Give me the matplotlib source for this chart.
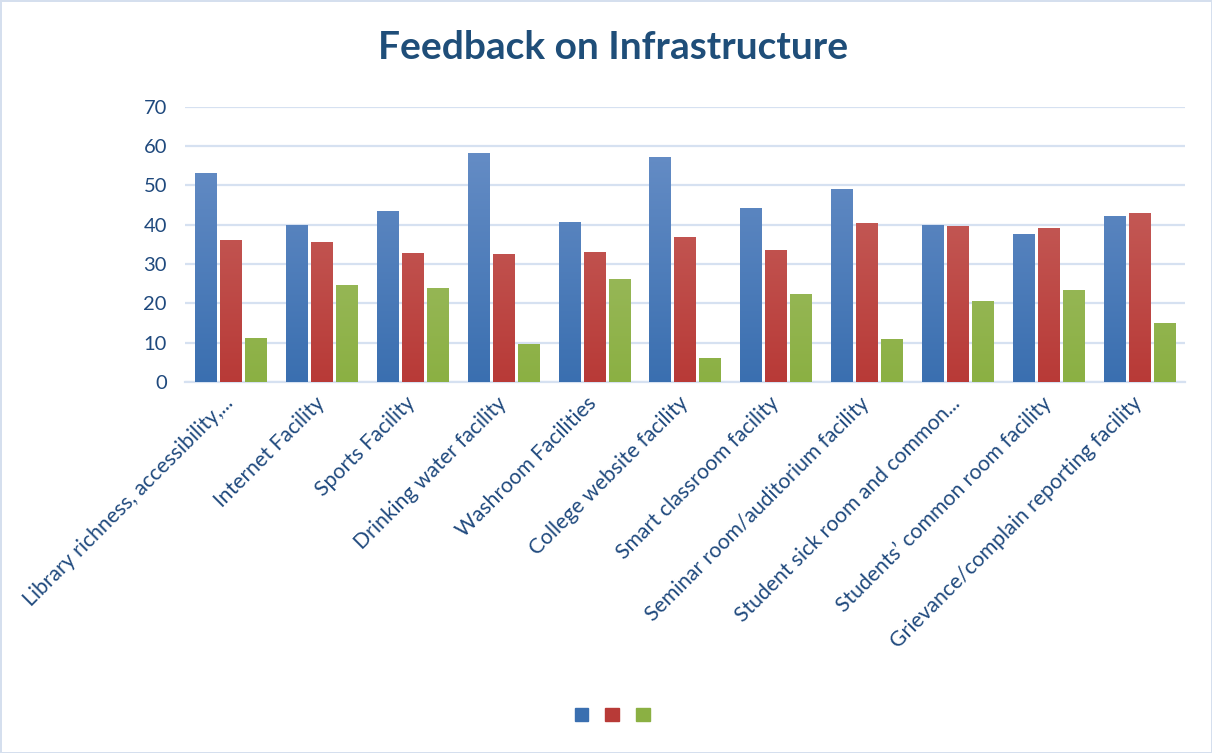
import numpy as np
import matplotlib.pyplot as plt
from matplotlib.patches import Patch
from matplotlib.colors import LinearSegmentedColormap

plt.rcParams['font.family'] = ['Lato', 'DejaVu Sans']

categories = ['Library richness, accessibility,...', 'Internet Facility', 'Sports Facility',
              'Drinking water facility', 'Washroom Facilities', 'College website facility',
              'Smart classroom facility', 'Seminar room/auditorium facility',
              'Student sick room and common...', 'Students\u2019 common room facility',
              'Grievance/complain reporting facility']
series_blue = [53.1, 39.9, 43.4, 58.2, 40.6, 57.2, 44.2, 49.0, 39.9, 37.6, 42.2]
series_red = [36.0, 35.5, 32.7, 32.5, 33.0, 36.8, 33.5, 40.4, 39.6, 39.1, 42.9]
series_green = [11.1, 24.6, 23.8, 9.6, 26.1, 6.0, 22.3, 10.9, 20.5, 23.3, 14.9]
yticks = [0, 10, 20, 30, 40, 50, 60, 70]

# (top colour, bottom colour) for each series
grads = [('#6d92c9', '#3a6fb0'), ('#ca6b67', '#b83a37'), ('#a9c276', '#8bb043')]
txt = '#1f497d'

fig = plt.figure(figsize=(12.12, 7.53), dpi=100)
fig.patch.set_edgecolor('#d5dfee')
fig.patch.set_linewidth(2)
ax = fig.add_axes([0.1526, 0.4927, 0.8251, 0.3656])

x = np.arange(len(categories))
w = 0.231
step = 0.275
grad = np.linspace(1, 0, 256).reshape(-1, 1)
for i, (vals, (top, bot)) in enumerate(zip([series_blue, series_red, series_green], grads)):
    cmap = LinearSegmentedColormap.from_list('g%d' % i, [bot, top])
    bars = ax.bar(x + (i - 1) * step, vals, w, color=bot, zorder=2)
    for b in bars:
        x0 = b.get_x()
        im = ax.imshow(grad, cmap=cmap, aspect='auto', vmin=0, vmax=1,
                       extent=[x0, x0 + b.get_width(), 0, 70], zorder=3)
        im.set_clip_path(b)

ax.set_xlim(-0.5, len(categories) - 0.5)
ax.set_ylim(0, 70)
ax.set_yticks(yticks)
ax.grid(axis='y', color='#d6e1f1', linewidth=1.6, zorder=0)
ax.set_axisbelow(True)
for s in ['top', 'right', 'left']:
    ax.spines[s].set_visible(False)
ax.spines['bottom'].set_color('#d6e1f1')
ax.spines['bottom'].set_linewidth(1.6)
ax.tick_params(axis='both', length=0, labelcolor=txt)
ax.tick_params(axis='y', pad=13, labelsize=14.5)
ax.set_xticks(x - 0.08)
ax.set_xticklabels(categories, rotation=45, ha='right', rotation_mode='anchor', fontsize=15.2)
ax.tick_params(axis='x', pad=8)

fig.text(0.506, 0.937, 'Feedback on Infrastructure', ha='center', va='center',
         fontsize=28, fontweight='bold', color='#1f4e79')

handles = [Patch(color=g[1]) for g in grads]
fig.legend(handles, ['', '', ''], ncol=3, loc='center', bbox_to_anchor=(0.505, 0.051),
           frameon=False, handlelength=1.0, handleheight=1.0, columnspacing=1.2,
           handletextpad=0.0)

fig.savefig('out.png', dpi=100)
